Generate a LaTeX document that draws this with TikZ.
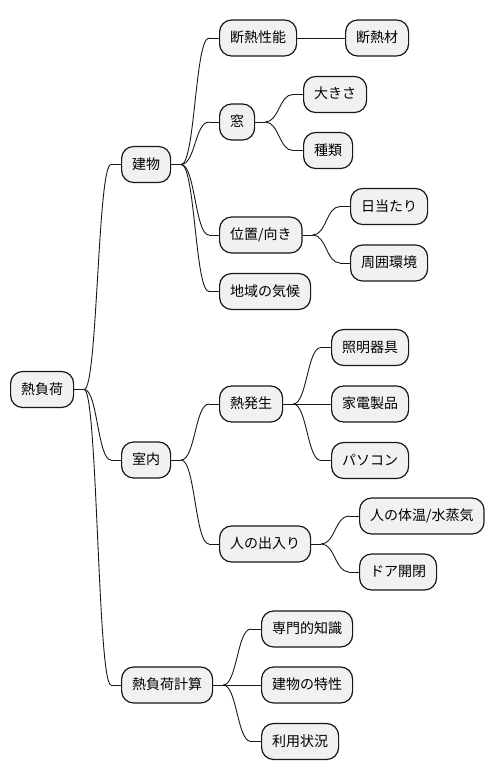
\documentclass[tikz,border=0pt]{standalone}
\usepackage{fontspec}
\setmainfont{Noto Sans CJK JP}
\usetikzlibrary{calc}
\definecolor{nodefill}{HTML}{F1F1F1}
\definecolor{nodeline}{HTML}{181818}
\newcommand\mmedge[2]{%
  \draw[edge] (#1.east) -- ++(10pt,0) coordinate (mmA);
  \draw[edge] (#2.west) -- ++(-10pt,0) coordinate (mmB);
  \draw[edge] let \p1=(mmA), \p2=(mmB) in (mmA) .. controls ({0.5*\x1+0.5*\x2},\y1) and ({0.5*\x1+0.5*\x2},\y2) .. (mmB);}
\begin{document}
\begin{tikzpicture}[x=1pt,y=-1pt,
  mm/.style={draw=nodeline, fill=nodefill, line width=1.2pt, rounded corners=12pt,
    minimum height=36pt, inner xsep=10.5pt, inner ysep=0pt, anchor=west,
    text height=11.5pt, text depth=2.5pt,
    font=\fontsize{14}{16}\selectfont, text=black},
  edge/.style={draw=nodeline, line width=0.9pt}]
\useasboundingbox (0,0) rectangle (493,781);
\node[mm] (root) at (10,389.5) {熱負荷};
\node[mm] (tatemono) at (121,164.5) {建物};
\node[mm] (shitsunai) at (121,460) {室内};
\node[mm] (keisan) at (121,685) {熱負荷計算};
\node[mm] (dannetsu) at (219,38) {断熱性能};
\node[mm] (dannetsuzai) at (345,38) {断熱材};
\node[mm] (mado) at (219,122) {窓};
\node[mm] (ookisa) at (303,94.5) {大きさ};
\node[mm] (shurui) at (303,150.5) {種類};
\node[mm] (ichi) at (219,235) {位置/向き};
\node[mm] (hiatari) at (350,206.5) {日当たり};
\node[mm] (shuui) at (350,263) {周囲環境};
\node[mm] (chiiki) at (219,291.5) {地域の気候};
\node[mm] (netsu) at (219,404) {熱発生};
\node[mm] (shoumei) at (331,347.5) {照明器具};
\node[mm] (kaden) at (331,404) {家電製品};
\node[mm] (pc) at (331,460.5) {パソコン};
\node[mm] (hito) at (219,544) {人の出入り};
\node[mm] (taion) at (359,516) {人の体温/水蒸気};
\node[mm] (door) at (359,572) {ドア開閉};
\node[mm] (senmon) at (261,629) {専門的知識};
\node[mm] (tokusei) at (261,685) {建物の特性};
\node[mm] (riyou) at (261,741.5) {利用状況};
\mmedge{root}{tatemono}
\mmedge{root}{shitsunai}
\mmedge{root}{keisan}
\mmedge{tatemono}{dannetsu}
\mmedge{tatemono}{mado}
\mmedge{tatemono}{ichi}
\mmedge{tatemono}{chiiki}
\mmedge{dannetsu}{dannetsuzai}
\mmedge{mado}{ookisa}
\mmedge{mado}{shurui}
\mmedge{ichi}{hiatari}
\mmedge{ichi}{shuui}
\mmedge{shitsunai}{netsu}
\mmedge{shitsunai}{hito}
\mmedge{netsu}{shoumei}
\mmedge{netsu}{kaden}
\mmedge{netsu}{pc}
\mmedge{hito}{taion}
\mmedge{hito}{door}
\mmedge{keisan}{senmon}
\mmedge{keisan}{tokusei}
\mmedge{keisan}{riyou}
\end{tikzpicture}
\end{document}
